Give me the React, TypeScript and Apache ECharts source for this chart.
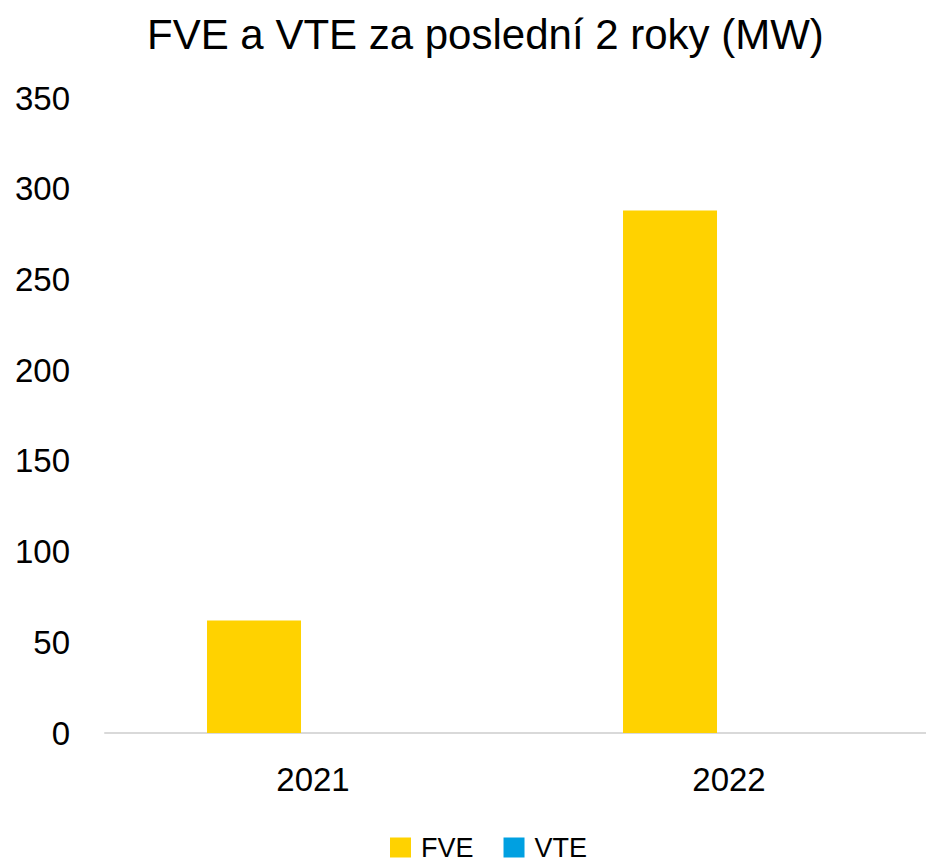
import React, { useEffect, useRef } from "react";
import * as echarts from "echarts";

const categories = ["2021", "2022"];
const fveValues = [62, 288];
const vteValues = [0, 0];
const titleText = "FVE a VTE za poslední 2 roky (MW)";

export default function App() {
  const ref = useRef<HTMLDivElement>(null);
  useEffect(() => {
    if (!ref.current) return;
    const chart = echarts.init(ref.current, null, { renderer: "svg" });
    const font = "Liberation Sans, Arial, sans-serif";
    chart.setOption({
      animation: false,
      backgroundColor: "#ffffff",
      title: {
        text: titleText,
        left: 142,
        top: 8,
        textStyle: { fontFamily: font, fontSize: 42, fontWeight: "normal", color: "#000" },
      },
      legend: {
        top: 834,
        left: 390,
        padding: 0,
        itemWidth: 21,
        itemHeight: 20,
        itemGap: 30,
        icon: "rect",
        textStyle: { fontFamily: font, fontSize: 27, lineHeight: 27, color: "#000", padding: [0, 0, 0, 5] },
        data: ["FVE", "VTE"],
      },
      grid: { left: 105, right: 0, top: 98, bottom: 129, containLabel: false },
      xAxis: {
        type: "category",
        data: categories,
        axisLine: { lineStyle: { color: "#D9D9D9", width: 2 } },
        axisTick: { show: false },
        axisLabel: { fontFamily: font, fontSize: 33, color: "#000", margin: 30 },
      },
      yAxis: {
        type: "value",
        min: 0,
        max: 350,
        interval: 50,
        splitLine: { show: false },
        axisLine: { show: false },
        axisTick: { show: false },
        axisLabel: { fontFamily: font, fontSize: 33, color: "#000", margin: 35 },
      },
      series: [
        {
          name: "FVE",
          type: "bar",
          data: fveValues,
          itemStyle: { color: "#FFD200" },
          barWidth: 94,
          barGap: "25.5%",
        },
        {
          name: "VTE",
          type: "bar",
          data: vteValues,
          barWidth: 94,
          itemStyle: { color: "#00A0E1" },
        },
      ],
    });
    return () => chart.dispose();
  }, []);
  return (
    <div style={{ position: "fixed", left: 0, top: 0, width: 926, height: 862, overflow: "hidden", background: "#fff" }}>
      <div ref={ref} style={{ width: 937, height: 862 }} />
    </div>
  );
}
